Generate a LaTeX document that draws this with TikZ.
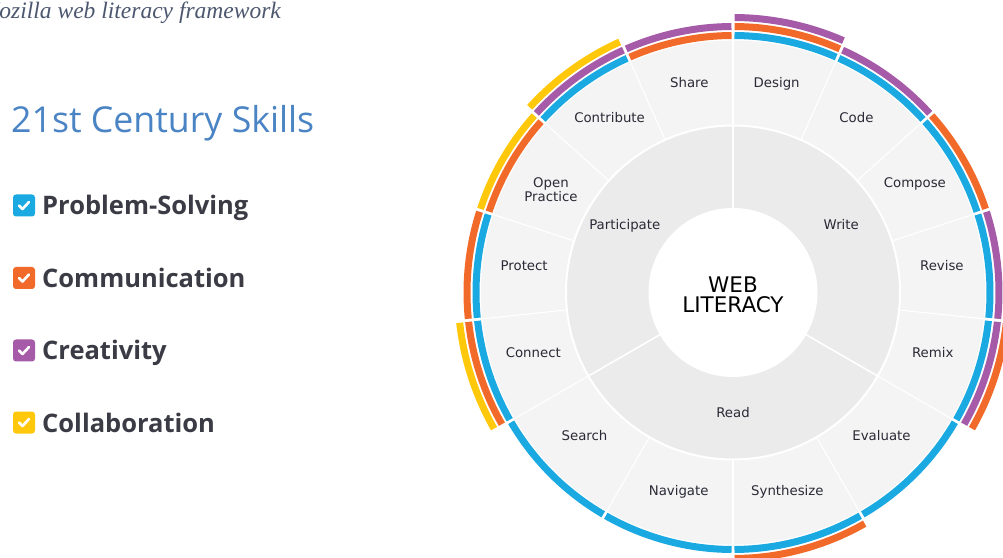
\documentclass[tikz,border=0pt]{standalone}
\usepackage{fontspec}
\setmainfont{DejaVu Sans}
\newfontfamily\osans{Open Sans}
\newfontfamily\tserif{Liberation Serif}
\usetikzlibrary{calc}
\definecolor{wlblue}{HTML}{1BA9E1}
\definecolor{wlorange}{HTML}{F26A2A}
\definecolor{wlpurple}{HTML}{A65BA9}
\definecolor{wlyellow}{HTML}{FFC80B}
\definecolor{segfill}{HTML}{F4F4F4}
\definecolor{midfill}{HTML}{EBEBEB}
\definecolor{lbltext}{HTML}{2A2A36}
\definecolor{titleblue}{HTML}{4A84C4}
\definecolor{skilltext}{HTML}{3A3B44}
\definecolor{captext}{HTML}{4D5870}
\newcommand\ringarc[4]{\draw[#4, line width=7] ({#1-0.33}:#3) arc[start angle={#1-0.33}, end angle={#2+0.33}, radius=#3];}
\begin{document}
\begin{tikzpicture}[x=1pt,y=1pt,
  lbl/.style={font=\fontsize{13.3}{13}\selectfont, text=lbltext, inner sep=0pt, anchor=base},
  cbox/.style={minimum size=22, inner sep=0pt, rounded corners=3, draw=none},
  chk/.style={draw=white, line width=2.6, line cap=round, line join=round},
  skill/.style={font=\osans\bfseries\fontsize{25.5}{25.5}\selectfont, text=skilltext, inner sep=0pt, anchor=base west},
  sepline/.style={draw=white, line width=1.1}]
\useasboundingbox (0,0) rectangle (1003,557);
\clip (0,0) rectangle (1003,557);
\fill[white] (0,0) rectangle (1003,557);

% caption and legend
\node[font=\tserif\itshape\fontsize{23.5}{23.5}\selectfont, text=captext, inner sep=0pt, anchor=base east] (cap) at (281,538) {Mozilla web literacy framework};
\node[font=\osans\fontsize{35.7}{35.7}\selectfont, text=titleblue, inner sep=0pt, anchor=base west] (title) at (11,424) {21st Century Skills};

\foreach \n/\c/\yb/\t in {1/wlblue/215/Problem-Solving, 2/wlorange/287.5/Communication, 3/wlpurple/360/Creativity, 4/wlyellow/432/Collaboration}{
  \node[cbox, fill=\c] (cb\n) at (24,{557-\yb+9.5}) {};
  \draw[chk] ($(cb\n.center)+(-5,0)$) -- ($(cb\n.center)+(-1.5,-3.5)$) -- ($(cb\n.center)+(5,3.5)$);
  \node[skill] (sk\n) at (42,{557-\yb}) {\t};
}

% wheel
\coordinate (C) at (733,264.5);
\begin{scope}[shift={(C)}]
  \fill[segfill] (0,0) circle (252);
  \fill[midfill] (0,0) circle (167);
  \foreach \a in {90,66,42,18,-6,-30,-60,-90,-120,-150,186,162,138,114}{
    \draw[sepline] (\a:167) -- (\a:253);
  }
  \foreach \a in {90,-30,210}{
    \draw[draw=white, line width=1.6] (\a:84) -- (\a:167);
  }
  \draw[white, line width=2] (0,0) circle (167);
  \fill[white] (0,0) circle (84.5);

  % skill rings
  % Design
  \ringarc{90}{66}{257}{wlblue}\ringarc{90}{66}{266}{wlorange}\ringarc{90}{66}{275}{wlpurple}
  % Code
  \ringarc{66}{42}{257}{wlblue}\ringarc{66}{42}{266}{wlpurple}
  % Compose
  \ringarc{42}{18}{257}{wlblue}\ringarc{42}{18}{266}{wlorange}
  % Revise
  \ringarc{18}{-6}{257}{wlblue}\ringarc{18}{-6}{266}{wlpurple}
  % Remix
  \ringarc{-6}{-30}{257}{wlblue}\ringarc{-6}{-30}{266}{wlpurple}\ringarc{-6}{-30}{275}{wlorange}
  % Evaluate
  \ringarc{-30}{-60}{257}{wlblue}
  % Synthesize
  \ringarc{-60}{-90}{257}{wlblue}\ringarc{-60}{-90}{266}{wlorange}
  % Navigate
  \ringarc{-90}{-120}{257}{wlblue}
  % Search
  \ringarc{-120}{-150}{257}{wlblue}
  % Connect
  \ringarc{210}{186}{257}{wlblue}\ringarc{210}{186}{266}{wlorange}\ringarc{210}{186}{275}{wlyellow}
  % Protect
  \ringarc{186}{162}{257}{wlblue}\ringarc{186}{162}{266}{wlorange}
  % Open Practice
  \ringarc{162}{138}{257}{wlorange}\ringarc{162}{138}{266}{wlyellow}
  % Contribute
  \ringarc{138}{114}{257}{wlblue}\ringarc{138}{114}{266}{wlpurple}\ringarc{138}{114}{275}{wlyellow}
  % Share
  \ringarc{114}{90}{257}{wlorange}\ringarc{114}{90}{266}{wlpurple}

  % segment labels
  \node[lbl] (design) at (78:210) {Design};
  \node[lbl] (code) at (54:210) {Code};
  \node[lbl] (compose) at (30:210) {Compose};
  \node[lbl] (revise) at (6:210) {Revise};
  \node[lbl] (remix) at (-18:210) {Remix};
  \node[lbl] (evaluate) at (-45:210) {Evaluate};
  \node[lbl] (synthesize) at (-75:210) {Synthesize};
  \node[lbl] (navigate) at (-105:210) {Navigate};
  \node[lbl] (search) at (-135:210) {Search};
  \node[lbl] (connect) at (198:210) {Connect};
  \node[lbl] (protect) at (174:210) {Protect};
  \node[lbl, anchor=center, align=center, font=\fontsize{13.3}{12}\selectfont] (openpractice) at (-182,102.5) {Open\\Practice};
  \node[lbl] (contribute) at (126:210) {Contribute};
  \node[lbl] (share) at (102:210) {Share};

  % strand labels
  \node[lbl] (write) at (30:125) {Write};
  \node[lbl] (read) at (-90:125) {Read};
  \node[lbl] (participate) at (150:125) {Participate};

  \node[align=center, font=\fontsize{21.5}{20}\selectfont, text=black, inner sep=0pt] (web) at (0,-2.5) {WEB\\LITERACY};
\end{scope}
\end{tikzpicture}
\end{document}
